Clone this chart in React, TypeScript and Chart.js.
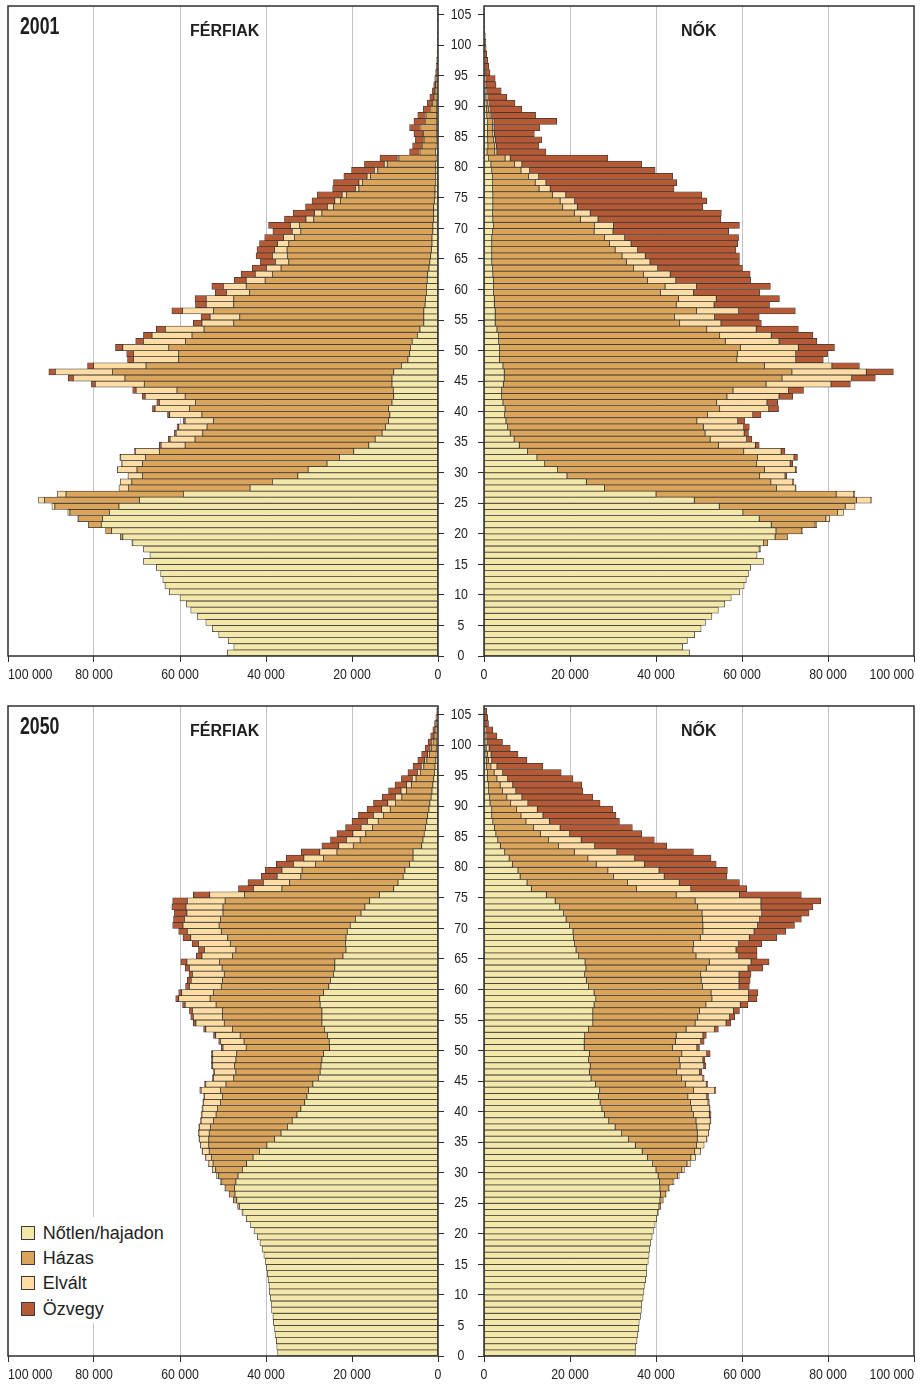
import React, { useEffect, useRef } from "react";
import { Chart, registerables } from "chart.js";
Chart.register(...registerables);

// ---------- categories / ticks / labels ----------
const ages = [
  0, 1, 2, 3, 4, 5, 6, 7, 8, 9, 10, 11, 12, 13, 14, 15, 16, 17, 18, 19, 20, 21, 22, 23, 24, 25, 26, 27, 28, 29,
  30, 31, 32, 33, 34, 35, 36, 37, 38, 39, 40, 41, 42, 43, 44, 45, 46, 47, 48, 49, 50, 51, 52, 53, 54, 55, 56, 57, 58, 59,
  60, 61, 62, 63, 64, 65, 66, 67, 68, 69, 70, 71, 72, 73, 74, 75, 76, 77, 78, 79, 80, 81, 82, 83, 84, 85, 86, 87, 88, 89,
  90, 91, 92, 93, 94, 95, 96, 97, 98, 99, 100, 101, 102, 103, 104, 105,
];
const ageTicks = [0, 5, 10, 15, 20, 25, 30, 35, 40, 45, 50, 55, 60, 65, 70, 75, 80, 85, 90, 95, 100, 105];
const valueTicks = [0, 20, 40, 60, 80, 100]; // thousand persons
const valueTickLabels = ["0", "20 000", "40 000", "60 000", "80 000", "100 000"];
const statusLabels = ["Nőtlen/hajadon", "Házas", "Elvált", "Özvegy"];
const statusColors = ["#F3E7A9", "#DBA45B", "#FEDDA5", "#B65A36"];
const years = ["2001", "2050"];
const sexTitles = ["FÉRFIAK", "NŐK"];

// ---------- values (thousand persons, index = age 0..105) ----------
// 2001 men
const men2001Single = [
  49.0, 47.5, 48.8, 51.0, 52.5, 54.0, 56.0, 57.5, 58.5, 60.0,
  62.5, 63.5, 64.0, 64.5, 65.5, 68.5, 67.0, 68.5, 71.0, 73.3,
  75.9, 78.3, 78.0, 76.4, 74.2, 69.4, 59.2, 43.7, 38.5, 32.6,
  30.2, 25.8, 22.9, 19.6, 16.1, 14.6, 13.0, 12.2, 11.5, 11.2,
  11.5, 10.7, 10.3, 10.4, 10.7, 10.7, 10.3, 8.5, 7.0, 6.6,
  6.4, 6.0, 4.8, 4.2, 3.3, 3.3, 3.3, 3.0, 2.9, 2.7,
  2.7, 2.5, 2.4, 2.1, 1.9, 1.7, 1.5, 1.4, 1.4, 1.2,
  1.2, 1.0, 1.0, 1.0, 0.8, 0.7, 0.7, 0.6, 0.6, 0.5,
  0.6, 0.4, 0.6, 0.4, 0.35, 0.3, 0.3, 0.3, 0.3, 0.3,
  0.25, 0.2, 0.15, 0.1, 0.1, 0.05, 0.04, 0.03, 0.02, 0.02,
  0.01, 0.01, 0, 0, 0, 0,
];
const men2001Married = [
  0, 0, 0, 0, 0, 0, 0, 0, 0, 0,
  0, 0, 0, 0, 0, 0, 0, 0, 0.2, 0.6,
  1.4, 3.0, 5.6, 9.2, 14.9, 22.1, 27.3, 28.3, 32.7, 36.1,
  39.8, 42.9, 45.1, 45.2, 42.7, 41.9, 41.7, 41.5, 40.7, 43.7,
  46.3, 45.7, 48.5, 50.3, 57.6, 62.1, 65.4, 59.4, 53.3, 53.7,
  56.2, 52.7, 52.4, 50.2, 44.2, 42.8, 48.9, 44.5, 44.6, 41.1,
  41.9, 37.7, 36.1, 34.4, 32.8, 33.3, 33.6, 33.3, 32.0, 30.7,
  31.0, 27.9, 26.0, 23.3, 21.9, 20.6, 17.7, 17.0, 15.1, 13.5,
  11.2, 8.7, 3.6, 3.3, 2.9, 3.1, 3.7, 2.7, 2.5, 1.4,
  1.05, 0.75, 0.55, 0.45, 0.3, 0.2, 0.15, 0.1, 0.07, 0.05,
  0.03, 0.02, 0.01, 0.01, 0, 0,
];
const men2001Divorced = [
  0, 0, 0, 0, 0, 0, 0, 0, 0, 0,
  0, 0, 0, 0, 0, 0, 0, 0, 0, 0,
  0, 0, 0.2, 0.5, 0.7, 1.4, 2.0, 2.2, 2.7, 3.4,
  4.5, 4.8, 5.8, 5.6, 5.6, 5.8, 6.2, 6.6, 6.6, 7.5,
  8.0, 8.4, 9.3, 9.5, 11.4, 12.0, 13.3, 12.2, 10.5, 10.5,
  10.7, 9.8, 9.3, 9.0, 7.4, 6.9, 7.2, 6.4, 6.4, 5.4,
  5.3, 4.4, 4.0, 3.4, 3.1, 3.5, 2.9, 2.6, 2.5, 2.0,
  2.1, 1.8, 1.7, 1.4, 1.3, 1.0, 0.8, 0.8, 0.8, 0.8,
  0.7, 0.4, 0.1, 0.1, 0.1, 0.1, 0.1, 0.1, 0.1, 0.05,
  0.05, 0, 0, 0, 0, 0, 0, 0, 0, 0,
  0, 0, 0, 0, 0, 0,
];
const men2001Widowed = [
  0, 0, 0, 0, 0, 0, 0, 0, 0, 0,
  0, 0, 0, 0, 0, 0, 0, 0, 0, 0,
  0, 0, 0, 0, 0, 0, 0, 0, 0, 0,
  0.1, 0.1, 0.2, 0.2, 0.4, 0.4, 0.4, 0.4, 0.4, 0.5,
  0.6, 0.6, 0.7, 0.8, 0.9, 1.2, 1.5, 1.4, 1.4, 1.6,
  1.7, 1.8, 2.0, 2.1, 2.0, 2.1, 2.5, 2.5, 2.6, 2.6,
  2.7, 2.8, 3.3, 3.3, 3.5, 3.8, 4.1, 4.2, 4.4, 4.5,
  5.1, 5.0, 5.0, 5.1, 5.3, 5.8, 5.3, 5.9, 5.4, 5.3,
  4.6, 4.0, 2.3, 2.1, 1.9, 2.1, 2.5, 2.5, 1.8, 1.65,
  1.15, 0.95, 0.6, 0.45, 0.35, 0.3, 0.22, 0.18, 0.12, 0.1,
  0.07, 0.05, 0.03, 0.02, 0.02, 0.01,
];
// 2001 women
const women2001Single = [
  47.8, 46.2, 47.3, 49.0, 50.5, 51.5, 53.0, 54.5, 56.0, 57.5,
  59.5, 60.5, 61.0, 61.5, 62.0, 65.0, 63.5, 64.0, 65.0, 67.7,
  67.9, 66.8, 64.0, 60.2, 54.7, 48.9, 40.0, 28.0, 23.8, 19.3,
  17.1, 14.1, 12.3, 10.1, 8.2, 7.0, 6.1, 5.5, 5.1, 4.8,
  4.9, 4.4, 4.1, 4.1, 4.5, 4.7, 4.7, 4.4, 3.6, 3.6,
  3.6, 3.4, 3.4, 3.0, 2.6, 2.6, 2.6, 2.4, 2.4, 2.2,
  2.2, 2.2, 2.05, 2.0, 1.8, 1.8, 1.8, 1.8, 1.8, 2.0,
  2.2, 2.05, 2.0, 2.05, 2.05, 2.05, 2.0, 2.0, 2.0, 1.8,
  1.6, 1.05, 0.7, 0.9, 0.85, 0.8, 0.8, 0.85, 0.65, 0.5,
  0.45, 0.35, 0.3, 0.2, 0.2, 0.1, 0.1, 0.08, 0.06, 0.05,
  0.03, 0.02, 0.01, 0.01, 0, 0,
];
const women2001Married = [
  0, 0, 0, 0, 0, 0, 0, 0, 0, 0,
  0, 0, 0, 0, 0, 0, 0, 0.3, 1.0, 2.9,
  6.0, 10.2, 15.5, 22.0, 29.3, 37.7, 41.9, 40.0, 42.9, 44.8,
  48.1, 49.3, 51.3, 50.3, 46.3, 45.6, 45.3, 45.5, 44.4, 47.2,
  49.9, 49.7, 52.4, 53.8, 61.1, 64.6, 66.9, 60.8, 55.2, 55.3,
  56.0, 52.7, 51.4, 48.8, 42.9, 41.7, 46.8, 42.3, 42.8, 38.8,
  39.9, 35.8, 35.05, 32.8, 31.3, 30.3, 28.7, 27.4, 26.2, 23.6,
  23.5, 20.35, 19.0, 16.25, 15.65, 13.85, 10.8, 9.9, 8.35, 6.8,
  5.5, 3.85, 1.8, 1.55, 1.4, 1.25, 1.15, 1.1, 0.8, 0.6,
  0.45, 0.35, 0.25, 0.15, 0.1, 0.1, 0.05, 0.04, 0.03, 0.02,
  0.01, 0.01, 0, 0, 0, 0,
];
const women2001Divorced = [
  0, 0, 0, 0, 0, 0, 0, 0, 0, 0,
  0, 0, 0, 0, 0, 0, 0, 0, 0, 0,
  0.2, 0.4, 0.9, 1.4, 2.3, 3.4, 4.1, 4.4, 5.1, 5.9,
  7.2, 7.8, 8.5, 8.7, 8.6, 8.5, 9.1, 9.4, 9.5, 10.5,
  11.4, 11.7, 12.1, 12.9, 15.1, 16.2, 17.3, 15.7, 13.7, 13.6,
  13.5, 12.5, 12.0, 11.5, 9.6, 9.3, 9.8, 8.8, 8.8, 7.7,
  7.3, 6.6, 6.2, 5.6, 5.5, 5.4, 5.2, 5.0, 4.7, 4.4,
  4.4, 4.1, 3.7, 3.4, 3.35, 3.1, 2.6, 2.5, 2.35, 2.0,
  1.7, 1.2, 0.5, 0.4, 0.4, 0.35, 0.35, 0.35, 0.3, 0.25,
  0.2, 0.15, 0.1, 0.1, 0.1, 0.05, 0.05, 0.03, 0.02, 0.02,
  0.01, 0.01, 0, 0, 0, 0,
];
const women2001Widowed = [
  0, 0, 0, 0, 0, 0, 0, 0, 0, 0,
  0, 0, 0, 0, 0, 0, 0, 0, 0, 0,
  0, 0, 0, 0, 0, 0.1, 0.2, 0.2, 0.3, 0.4,
  0.3, 0.6, 0.8, 0.9, 0.9, 1.2, 1.0, 1.3, 1.6, 1.9,
  2.3, 2.5, 3.2, 3.5, 4.5, 5.5, 6.3, 6.4, 6.4, 7.4,
  8.4, 8.8, 9.7, 9.8, 9.4, 10.4, 13.2, 12.9, 14.7, 15.4,
  17.2, 17.4, 18.6, 19.7, 20.8, 21.9, 22.9, 24.8, 26.5, 26.9,
  29.3, 28.6, 30.5, 29.2, 30.75, 31.7, 28.8, 30.4, 31.2, 29.2,
  27.9, 22.7, 11.4, 9.85, 10.75, 9.3, 10.7, 14.6, 10.25, 7.45,
  6.1, 4.45, 3.35, 2.35, 2.2, 1.15, 0.9, 0.75, 0.54, 0.41,
  0.35, 0.26, 0.19, 0.11, 0.08, 0.05,
];
// 2050 men
const men2050Single = [
  37.3, 37.5, 37.6, 37.9, 38.0, 38.3, 38.4, 38.7, 38.8, 39.0,
  39.2, 39.3, 39.5, 39.7, 39.9, 40.2, 40.5, 40.9, 41.4, 42.0,
  42.8, 43.6, 44.5, 45.4, 46.2, 46.8, 47.2, 47.3, 47.0, 46.5,
  45.5, 44.5, 43.0, 41.5, 39.8, 38.0, 36.5, 35.0, 33.9, 32.8,
  31.9, 31.0, 30.5, 30.1, 29.1, 27.8, 27.4, 27.2, 27.0, 26.6,
  25.2, 25.3, 25.7, 26.4, 27.0, 27.0, 27.0, 27.4, 27.5, 26.6,
  25.4, 25.0, 24.3, 24.0, 24.0, 22.1, 21.4, 21.5, 21.4, 21.1,
  20.4, 19.2, 17.9, 17.0, 15.9, 13.6, 10.3, 9.3, 8.1, 7.7,
  6.6, 5.8, 5.8, 3.8, 3.5, 3.2, 2.9, 2.6, 2.4, 2.1,
  1.9, 1.6, 1.4, 1.2, 1.0, 0.8, 0.7, 0.5, 0.4, 0.3,
  0.25, 0.2, 0.1, 0.08, 0.05, 0.03,
];
const men2050Married = [
  0, 0, 0, 0, 0, 0, 0, 0, 0, 0,
  0, 0, 0, 0, 0, 0, 0, 0, 0, 0,
  0, 0, 0.1, 0.2, 0.4, 0.8, 1.3, 2.1, 3.3, 4.5,
  6.2, 7.8, 9.7, 11.7, 13.5, 15.3, 16.7, 17.9, 18.3, 18.8,
  19.4, 19.6, 19.6, 20.5, 20.2, 19.7, 19.6, 20.1, 20.0, 20.2,
  19.4, 19.8, 20.3, 21.4, 22.7, 23.1, 23.1, 24.2, 25.5, 25.6,
  25.0, 25.1, 25.4, 26.2, 26.8, 25.7, 25.6, 26.8, 27.5, 29.3,
  30.5, 31.4, 32.1, 33.0, 33.6, 31.4, 26.0, 25.2, 23.8, 23.9,
  21.9, 20.8, 17.7, 15.9, 14.6, 13.6, 12.3, 11.3, 10.3, 9.0,
  8.0, 6.8, 5.9, 5.0, 4.1, 3.3, 2.6, 2.1, 1.6, 1.2,
  0.9, 0.6, 0.45, 0.3, 0.2, 0.12,
];
const men2050Divorced = [
  0, 0, 0, 0, 0, 0, 0, 0, 0, 0,
  0, 0, 0, 0, 0, 0, 0, 0, 0, 0,
  0, 0, 0, 0, 0, 0, 0.1, 0.2, 0.3, 0.5,
  0.7, 1.0, 1.3, 1.6, 1.9, 2.2, 2.4, 2.6, 2.9, 3.3,
  3.4, 3.9, 4.2, 4.5, 4.7, 4.7, 5.0, 5.1, 5.4, 5.6,
  5.4, 5.5, 5.7, 6.2, 6.6, 6.8, 7.0, 7.2, 7.3, 7.4,
  7.4, 7.3, 7.4, 7.6, 7.6, 7.1, 7.3, 7.4, 8.6, 7.9,
  8.4, 8.35, 8.4, 8.6, 8.8, 8.1, 6.6, 6.1, 5.5, 4.7,
  5.1, 4.6, 4.0, 3.4, 3.2, 3.0, 2.7, 2.5, 2.3, 2.0,
  1.8, 1.5, 1.3, 1.1, 0.9, 0.7, 0.6, 0.5, 0.4, 0.3,
  0.2, 0.15, 0.1, 0.07, 0.05, 0.03,
];
const men2050Widowed = [
  0, 0, 0, 0, 0, 0, 0, 0, 0, 0,
  0, 0, 0, 0, 0, 0, 0, 0, 0, 0,
  0, 0, 0, 0, 0, 0, 0, 0, 0, 0,
  0.05, 0.05, 0.1, 0.1, 0.1, 0.1, 0.15, 0.15, 0.2, 0.2,
  0.2, 0.2, 0.2, 0.3, 0.3, 0.3, 0.3, 0.3, 0.3, 0.3,
  0.4, 0.4, 0.5, 0.5, 0.6, 0.6, 0.7, 0.6, 0.7, 0.7,
  0.9, 0.9, 0.8, 1.0, 1.4, 1.3, 1.4, 1.5, 1.8, 2.0,
  2.4, 2.55, 2.9, 3.3, 3.4, 3.8, 3.5, 3.6, 3.7, 3.9,
  4.0, 4.1, 4.3, 3.9, 3.7, 3.7, 3.6, 3.6, 3.5, 3.4,
  3.3, 3.1, 2.9, 2.7, 2.5, 2.2, 1.9, 1.6, 1.4, 1.2,
  0.95, 0.75, 0.55, 0.35, 0.2, 0.12,
];
// 2050 women
const women2050Single = [
  35.2, 35.3, 35.6, 35.7, 36.0, 36.1, 36.4, 36.6, 36.7, 37.0,
  37.2, 37.3, 37.6, 37.8, 37.9, 38.2, 38.4, 38.5, 38.8, 39.1,
  39.4, 39.8, 40.1, 40.4, 40.7, 40.9, 41.0, 40.9, 40.8, 40.5,
  40.0, 39.2, 38.0, 36.8, 35.2, 33.6, 32.0, 30.5, 29.0, 28.0,
  27.4, 27.0, 26.6, 26.9, 25.9, 24.9, 24.5, 24.7, 24.3, 24.5,
  23.3, 23.3, 23.4, 24.3, 25.3, 25.3, 25.3, 25.6, 26.0, 25.6,
  24.3, 23.8, 23.4, 23.7, 23.5, 22.0, 21.4, 21.05, 20.8, 20.7,
  19.9, 19.1, 18.5, 17.6, 16.55, 14.5, 11.0, 10.0, 8.4, 7.9,
  6.6, 5.85, 4.8, 3.8, 3.2, 2.75, 2.4, 2.05, 1.8, 1.8,
  1.4, 1.3, 1.05, 1.05, 0.8, 0.8, 0.6, 0.5, 0.4, 0.3,
  0.25, 0.2, 0.15, 0.1, 0.05, 0.03,
];
const women2050Married = [
  0, 0, 0, 0, 0, 0, 0, 0, 0, 0,
  0, 0, 0, 0, 0, 0, 0, 0, 0, 0,
  0, 0, 0.1, 0.2, 0.4, 0.8, 1.3, 2.1, 3.2, 4.5,
  6.0, 8.0, 10.1, 12.2, 14.2, 16.0, 17.6, 19.0, 20.3, 20.7,
  20.9, 21.0, 20.8, 21.8, 21.0, 21.0, 20.3, 20.9, 21.1, 21.5,
  20.5, 21.2, 21.3, 22.7, 23.8, 24.4, 24.8, 26.0, 27.0, 27.2,
  26.5, 26.7, 27.0, 28.0, 28.9, 27.3, 27.2, 27.65, 29.5, 30.2,
  31.0, 31.7, 32.2, 32.1, 32.55, 30.2, 24.5, 23.4, 21.7, 20.9,
  19.5, 18.3, 16.2, 13.5, 11.8, 10.35, 9.1, 7.7, 6.8, 5.8,
  4.8, 4.0, 3.25, 2.7, 2.2, 1.55, 1.0, 0.5, 0.45, 0.3,
  0.2, 0.15, 0.1, 0.05, 0.03, 0.02,
];
const women2050Divorced = [
  0, 0, 0, 0, 0, 0, 0, 0, 0, 0,
  0, 0, 0, 0, 0, 0, 0, 0, 0, 0,
  0, 0, 0, 0, 0, 0, 0.1, 0.2, 0.2, 0.4,
  0.6, 0.8, 1.1, 1.4, 1.8, 2.2, 2.6, 2.9, 3.3, 3.7,
  4.1, 4.1, 4.4, 4.9, 4.8, 5.0, 5.3, 5.5, 5.5, 5.8,
  5.7, 5.9, 6.2, 6.6, 7.2, 7.4, 7.9, 8.0, 8.5, 8.7,
  8.5, 8.8, 8.9, 9.7, 9.7, 9.9, 10.0, 10.5, 11.4, 11.9,
  12.7, 13.3, 13.9, 14.7, 15.3, 14.7, 12.6, 12.0, 11.8, 11.9,
  11.2, 10.85, 9.9, 8.4, 7.6, 6.8, 6.2, 5.45, 5.1, 4.8,
  4.0, 3.5, 3.1, 2.9, 2.5, 2.0, 1.4, 0.8, 0.8, 0.6,
  0.4, 0.25, 0.15, 0.1, 0.07, 0.05,
];
const women2050Widowed = [
  0, 0, 0, 0, 0, 0, 0, 0, 0, 0,
  0, 0, 0, 0, 0, 0, 0, 0, 0, 0,
  0, 0, 0, 0, 0, 0, 0, 0, 0, 0,
  0, 0, 0, 0, 0, 0.1, 0.1, 0.1, 0.2, 0.4,
  0.2, 0.3, 0.4, 0.3, 0.3, 0.3, 0.6, 0.5, 0.5, 0.8,
  0.6, 0.8, 0.8, 0.9, 1.1, 1.2, 1.4, 1.8, 2.0, 2.2,
  2.4, 2.6, 2.8, 3.4, 4.2, 4.3, 4.9, 5.4, 6.4, 7.4,
  8.6, 9.7, 11.0, 12.1, 13.9, 14.4, 13.0, 14.0, 14.6, 15.9,
  16.7, 17.8, 17.8, 16.8, 17.0, 16.8, 16.8, 16.3, 17.0, 17.5,
  16.8, 16.5, 15.6, 16.1, 15.2, 13.6, 10.7, 8.2, 6.25, 4.9,
  3.45, 2.4, 1.65, 0.8, 0.7, 0.5,
];

// ---------- styling ----------
const SANS = "'Liberation Sans', Arial, sans-serif";
const TEXT = "#1e1e1e";
const AGE_MAX = 106.4;
const TICK_SIZE = 15;
const CONDENSE = 0.82; // emulate the condensed face of the original tick labels

function measureText(text: string, font: string): number {
  const c = document.createElement("canvas").getContext("2d");
  if (!c) return 20;
  c.font = font;
  return c.measureText(text).width;
}

// draws the frame and renders the axis texts horizontally condensed
const framePlugin = {
  id: "frame",
  beforeDraw(chart: any) {
    const ctx = chart.ctx;
    if (ctx.__origFillText) return;
    const orig = ctx.fillText;
    ctx.__origFillText = orig;
    ctx.fillText = function (text: string, x: number, y: number, maxWidth?: number) {
      this.save();
      this.translate(x, y);
      this.scale(CONDENSE, 1);
      if (maxWidth === undefined) orig.call(this, text, 0, 0);
      else orig.call(this, text, 0, 0, maxWidth / CONDENSE);
      this.restore();
    };
  },
  afterDatasetsDraw(chart: any) {
    const { ctx, chartArea: a } = chart;
    ctx.save();
    ctx.strokeStyle = "#2e2e2e";
    ctx.lineWidth = 1.5;
    ctx.strokeRect(a.left, a.top, a.right - a.left, a.bottom - a.top);
    ctx.restore();
  },
  afterDraw(chart: any) {
    const ctx = chart.ctx;
    if (ctx.__origFillText) {
      ctx.fillText = ctx.__origFillText;
      delete ctx.__origFillText;
    }
  },
};

type PanelProps = {
  men: boolean;
  series: number[][];
  left: number;
  top: number;
  width: number;
  height: number;
  padBottom: number;
};

function PyramidChart({ men, series, left, top, width, height, padBottom }: PanelProps) {
  const ref = useRef<HTMLCanvasElement>(null);
  useEffect(() => {
    if (!ref.current) return;
    const tickFont = { family: SANS, size: TICK_SIZE };
    const widest = measureText("105", `${TICK_SIZE}px ${SANS}`);
    const labelPad = Math.max(0, 17 - widest / 2);
    const datasets = series.map((vals, k) => ({
      label: statusLabels[k],
      data: ages.map((a, i) => ({ x: vals[i], y: a + 0.5 })),
      backgroundColor: statusColors[k],
      borderColor: "#363636",
      borderWidth: 0.75,
      borderSkipped: false as const,
      stack: "pyramid",
      categoryPercentage: 1,
      barPercentage: 1,
    }));
    const chart = new Chart(ref.current, {
      type: "bar",
      data: { datasets },
      plugins: [framePlugin],
      options: {
        indexAxis: "y",
        animation: false,
        responsive: false,
        events: [],
        layout: {
          padding: men
            ? { left: 8, right: 0, top: 6, bottom: padBottom }
            : { left: 0, right: 8, top: 6, bottom: padBottom },
        },
        plugins: { legend: { display: false }, tooltip: { enabled: false } },
        scales: {
          x: {
            type: "linear",
            reverse: men,
            min: 0,
            max: 100,
            offset: false,
            stacked: true,
            position: "bottom",
            // an unlabelled leading tick at 0 lets the "0" label stay centred while
            // the outer "100 000" label is pulled inside the page by align: "inner"
            afterBuildTicks: (s: any) => {
              s.ticks = [{ value: valueTicks[0] }, ...valueTicks.map((v) => ({ value: v }))];
            },
            afterFit: (s: any) => {
              s.height = 30;
              s.paddingLeft = 0;
              s.paddingRight = 0;
            },
            border: { display: false },
            grid: {
              offset: false,
              color: (c: any) =>
                c.tick && (c.tick.value === 0 || c.tick.value === 100) ? "rgba(0,0,0,0)" : "#c2c2c6",
              lineWidth: 1,
              tickColor: "#2e2e2e",
              tickLength: 6,
            },
            ticks: {
              align: "inner",
              autoSkip: false,
              maxRotation: 0,
              padding: 4,
              color: TEXT,
              font: tickFont,
              callback: (v: any, i: number) => (i === 0 ? "" : valueTickLabels[valueTicks.indexOf(Number(v))]),
            },
          },
          y: {
            type: "linear",
            position: men ? "right" : "left",
            min: 0,
            max: AGE_MAX,
            offset: false,
            stacked: true,
            afterBuildTicks: (s: any) => {
              s.ticks = ageTicks.map((v) => ({ value: v }));
            },
            afterFit: (s: any) => {
              s.width = men ? 46 : 6;
              s.paddingTop = 0;
              s.paddingBottom = 0;
            },
            border: { display: false },
            grid: { offset: false, drawOnChartArea: false, tickLength: 6, tickColor: "#2e2e2e", lineWidth: 1 },
            ticks: {
              display: men,
              autoSkip: false,
              crossAlign: "center",
              padding: labelPad,
              color: TEXT,
              font: tickFont,
              callback: (v: any) => String(v),
            },
          },
        },
      } as any,
    });
    return () => chart.destroy();
  }, []);
  return (
    <canvas
      ref={ref}
      width={width}
      height={height}
      style={{ position: "absolute", left, top, width, height }}
    />
  );
}

const panels = [
  {
    year: years[0],
    men: [men2001Single, men2001Married, men2001Divorced, men2001Widowed],
    women: [women2001Single, women2001Married, women2001Divorced, women2001Widowed],
  },
  {
    year: years[1],
    men: [men2050Single, men2050Married, men2050Divorced, men2050Widowed],
    women: [women2050Single, women2050Married, women2050Divorced, women2050Widowed],
  },
];

export default function App() {
  const abs = (left: number, top: number, extra: React.CSSProperties = {}): React.CSSProperties => ({
    position: "absolute",
    left,
    top,
    whiteSpace: "nowrap",
    color: TEXT,
    ...extra,
  });
  return (
    <div style={{ position: "absolute", left: 0, top: 0, width: 922, height: 1387, background: "#fff", overflow: "hidden" }}>
      {panels.map((p, r) => {
        const top = r * 700;
        const h = r === 0 ? 700 : 687;
        const pb = r === 0 ? 14 : 1;
        return (
          <React.Fragment key={p.year}>
            <PyramidChart men={true} series={p.men} left={0} top={top} width={484} height={h} padBottom={pb} />
            <PyramidChart men={false} series={p.women} left={478} top={top} width={444} height={h} padBottom={pb} />
            <div
              style={abs(20, top + 15, {
                font: `bold 23px ${SANS}`,
                lineHeight: "23px",
                transform: "scaleX(0.77)",
                transformOrigin: "left top",
              })}
            >
              {p.year}
            </div>
            <div style={abs(190, top + 23, { font: `bold 16px ${SANS}`, lineHeight: "16px" })}>{sexTitles[0]}</div>
            <div style={abs(681, top + 23, { font: `bold 16px ${SANS}`, lineHeight: "16px" })}>{sexTitles[1]}</div>
          </React.Fragment>
        );
      })}
      <div style={{ position: "absolute", left: 10, top: 1217, width: 162, height: 106, background: "#fff", zIndex: 2 }}>
        {statusLabels.map((lab, k) => (
          <div key={lab} style={{ position: "absolute", left: 10.7, top: 8.7 + k * 25.3, height: 14, display: "flex", alignItems: "center" }}>
            <div
              style={{
                width: 12,
                height: 12,
                background: statusColors[k],
                border: "1px solid #3a3a3a",
                boxSizing: "content-box",
              }}
            />
            <div style={{ marginLeft: 8, font: `18px ${SANS}`, lineHeight: "14px", color: TEXT, whiteSpace: "nowrap" }}>{lab}</div>
          </div>
        ))}
      </div>
    </div>
  );
}
